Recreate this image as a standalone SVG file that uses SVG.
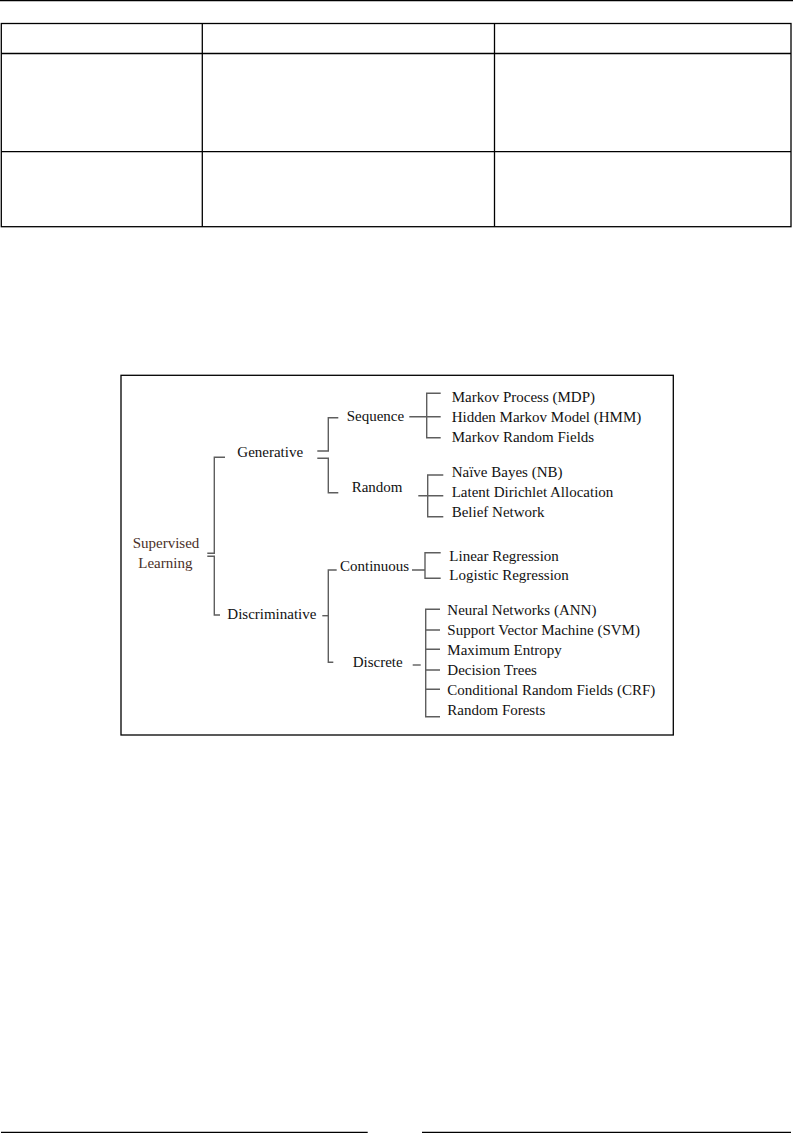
<svg xmlns="http://www.w3.org/2000/svg" width="793" height="1142" viewBox="0 0 793 1142">
<style>
.rule{stroke:#000;stroke-width:1.3;fill:none}
.tb{stroke:#000;stroke-width:1.3;fill:none}
.box{stroke:#000;stroke-width:1.3;fill:#fff}
.br{stroke:#5e5e5e;stroke-width:1.4;fill:none}
text{font-family:"Liberation Serif","Times New Roman",serif;font-size:15px;fill:#111}
.root{fill:#4a3028}
</style>
<rect width="793" height="1142" fill="#fff"/>
<line class="rule" x1="0" y1="0.7" x2="793" y2="0.7"/>
<g id="table">
<rect class="tb" x="1.3" y="23.5" width="789.7" height="203.2"/>
<line class="tb" x1="1.3" y1="53.5" x2="791" y2="53.5"/>
<line class="tb" x1="1.3" y1="151.7" x2="791" y2="151.7"/>
<line class="tb" x1="202.3" y1="23.5" x2="202.3" y2="226.7"/>
<line class="tb" x1="494.5" y1="23.5" x2="494.5" y2="226.7"/>
</g>
<rect id="frame" class="box" x="121" y="375.3" width="552.3" height="359.7"/>
<g id="connectors">
<path class="br" d="M207.3,553.3 H214.3 V457.3 H225"/>
<path class="br" d="M207.3,556.3 H214.3 V615 H220"/>
<path class="br" d="M317.3,451 H328.3 V417.7 H338.3"/>
<path class="br" d="M317.3,458.3 H328.3 V492.7 H338.3"/>
<path class="br" d="M322.3,615.7 H328.3"/>
<path class="br" d="M336.7,570 H328.3 V662.3 H333.3"/>
<path class="br" d="M440.7,393.3 H426.7 V437.7 H440.7 M409.3,416.7 H440.7"/>
<path class="br" d="M443.3,475 H427.7 V516.7 H443.3 M418.3,495.7 H443.3"/>
<path class="br" d="M440.7,552.7 H425 V578.3 H440.7 M412,570 H425"/>
<path class="br" d="M412.7,665 H420.7"/>
<path class="br" d="M440,609.3 H425.7 V716.7 H440 M425.7,630 H440 M425.7,649.3 H440 M425.7,670 H440 M425.7,689.3 H440"/>
</g>
<g id="supervised"><text class="root" x="132.7" y="548.3">Supervised</text><text class="root" x="138.3" y="568.3">Learning</text></g>
<g id="generative"><text x="237.3" y="457.3">Generative</text></g>
<g id="discriminative"><text x="227.3" y="619">Discriminative</text></g>
<g id="sequence"><text x="346.7" y="420.7">Sequence</text></g>
<g id="random"><text x="351.7" y="491.7">Random</text></g>
<g id="continuous"><text x="340" y="571">Continuous</text></g>
<g id="discrete"><text x="352.7" y="666.7">Discrete</text></g>
<g id="mdp"><text x="451.7" y="401.7">Markov Process (MDP)</text></g>
<g id="hmm"><text x="451.7" y="422.3">Hidden Markov Model (HMM)</text></g>
<g id="mrf"><text x="451.7" y="441.7">Markov Random Fields</text></g>
<g id="nb"><text x="451.7" y="477.3">Naïve Bayes (NB)</text></g>
<g id="lda"><text x="451.7" y="497.3">Latent Dirichlet Allocation</text></g>
<g id="belief"><text x="451.7" y="516.7">Belief Network</text></g>
<g id="linreg"><text x="449.3" y="560.7">Linear Regression</text></g>
<g id="logreg"><text x="449.3" y="580">Logistic Regression</text></g>
<g id="ann"><text x="447.3" y="615">Neural Networks (ANN)</text></g>
<g id="svm"><text x="447.3" y="635">Support Vector Machine (SVM)</text></g>
<g id="maxent"><text x="447.3" y="654.5">Maximum Entropy</text></g>
<g id="dtree"><text x="447.3" y="674.5">Decision Trees</text></g>
<g id="crf"><text x="447.3" y="694.5">Conditional Random Fields (CRF)</text></g>
<g id="rforest"><text x="447.3" y="715">Random Forests</text></g>
<line class="rule" x1="1" y1="1132.3" x2="367.7" y2="1132.3"/>
<line class="rule" x1="422" y1="1132.3" x2="791" y2="1132.3"/>
</svg>
